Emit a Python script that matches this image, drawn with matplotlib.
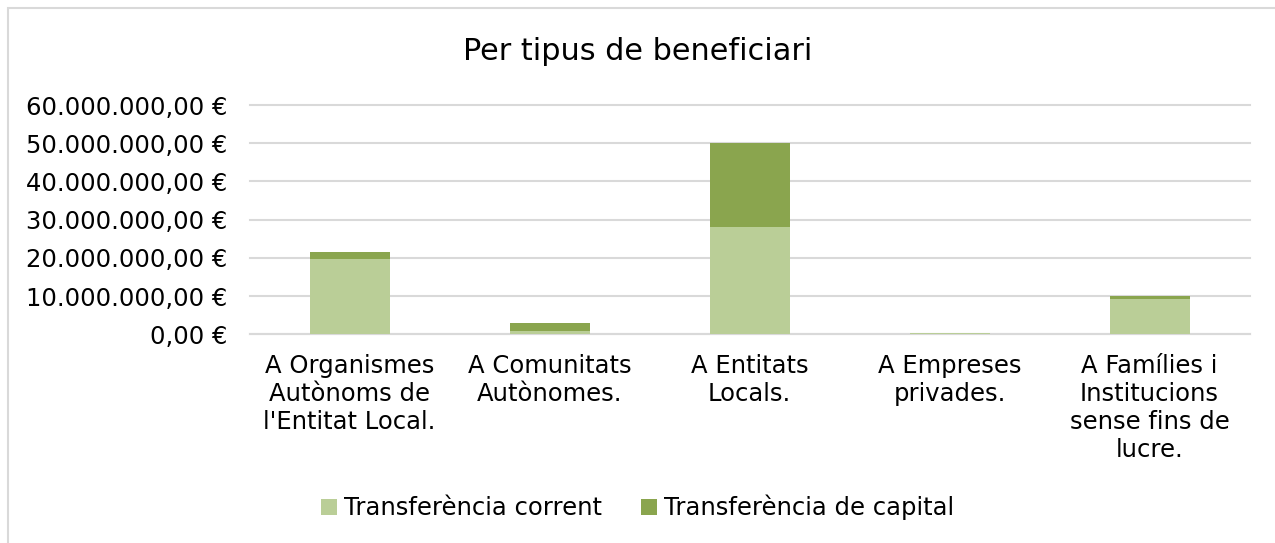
import matplotlib
matplotlib.use('Agg')
import matplotlib.pyplot as plt
from matplotlib.ticker import FuncFormatter
from matplotlib.patches import Rectangle
import numpy as np

categories = ["A Organismes\nAutònoms de\nl'Entitat Local.", "A Comunitats\nAutònomes.",
              "A Entitats\nLocals.", "A Empreses\nprivades.",
              "A Famílies i\nInstitucions\nsense fins de\nlucre."]
corrent = [19.8e6, 0.8e6, 28.2e6, 0.3e6, 9.3e6]
capital = [1.7e6, 2.25e6, 21.9e6, 0.0, 0.85e6]
series_names = ["Transferència corrent", "Transferència de capital"]

c_light = '#bace97'
c_dark = '#8aa54e'

plt.rcParams['font.family'] = ['DejaVu Sans']
fig = plt.figure(figsize=(12.75, 5.43), dpi=100)
ax = fig.add_axes([0.1957, 0.3843, 0.7843, 0.4223])

x = np.arange(len(categories))
ax.bar(x, corrent, width=0.4, color=c_light, label=series_names[0], zorder=3)
ax.bar(x, capital, width=0.4, bottom=corrent, color=c_dark, label=series_names[1], zorder=3)

ax.set_xlim(-0.5, len(categories) - 0.5)
ax.set_ylim(0, 60e6)
ax.set_yticks(np.arange(0, 60e6 + 1, 10e6))

def euro(v, pos):
    s = f"{v:,.2f}".replace(",", "X").replace(".", ",").replace("X", ".")
    return s + " €"

ax.yaxis.set_major_formatter(FuncFormatter(euro))
ax.yaxis.grid(True, color='#d9d9d9', linewidth=1.5, zorder=0)
for gl in ax.get_ygridlines():
    gl.set_clip_on(False)
ax.set_axisbelow(True)
for sp in ['top', 'right', 'left']:
    ax.spines[sp].set_visible(False)
ax.spines['bottom'].set_color('#d9d9d9')
ax.spines['bottom'].set_linewidth(1.5)
ax.tick_params(axis='y', length=0, pad=16, labelsize=17.5, colors='black')
ax.tick_params(axis='x', length=0, pad=14, labelsize=17.5)
ax.set_xticks(x)
ax.set_xticklabels(categories, linespacing=1.22)

fig.text(0.5, 0.905, "Per tipus de beneficiari", ha='center', va='center', fontsize=21.8)

fig.legend(loc='center', bbox_to_anchor=(0.5, 0.065), ncol=2, frameon=False,
           fontsize=17.5, handlelength=0.65, handleheight=0.65, handletextpad=0.3,
           columnspacing=1.6)

fig.patches.append(Rectangle((8 / 1275, -0.1), 1.2, 1.1 - 8 / 543, transform=fig.transFigure,
                             fill=False, edgecolor='#d9d9d9', linewidth=1.5))

fig.savefig('out.png', dpi=100)
